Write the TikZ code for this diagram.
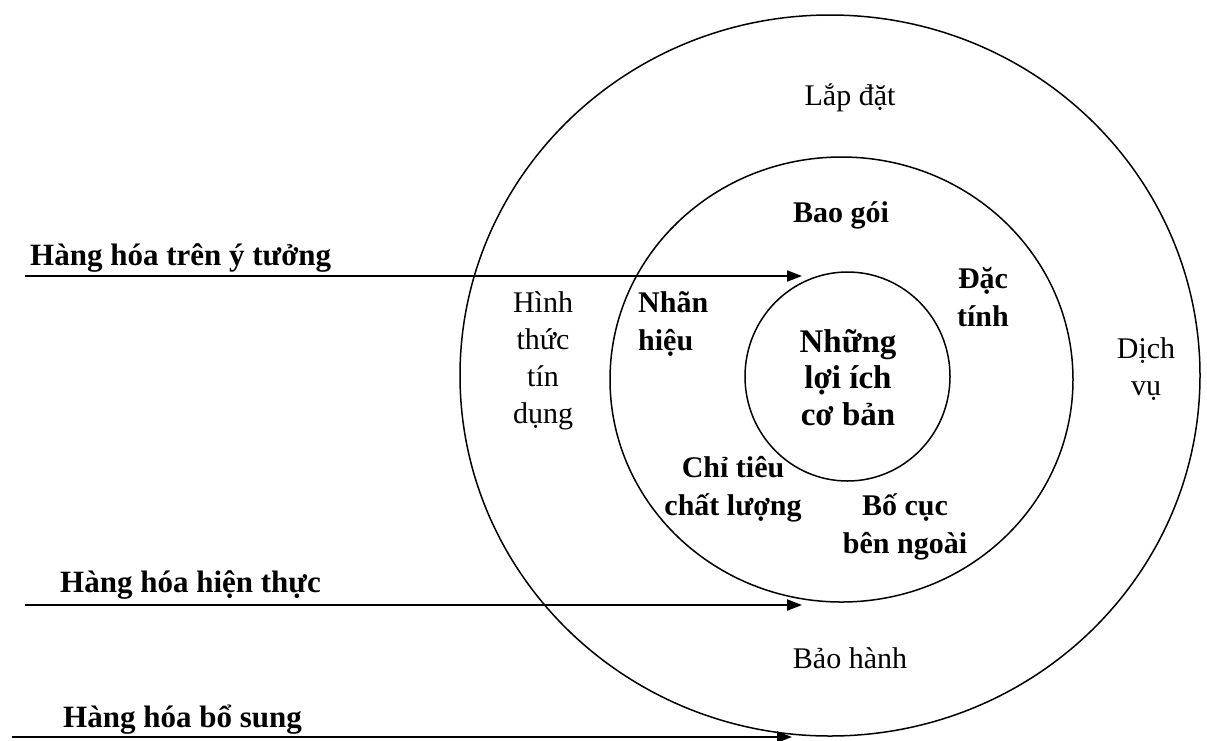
\documentclass[tikz,border=0pt]{standalone}
\usepackage{fontspec}
\setmainfont{Liberation Serif}
\usetikzlibrary{arrows.meta,shapes.geometric}
% multi-line label whose baseline is the first line
\newcommand{\txtlines}[2][c]{\begin{tabular}[t]{@{}#1@{}}#2\end{tabular}}

\begin{document}
\begin{tikzpicture}[x=1pt,y=-1pt,
  ring/.style={draw, ellipse, line width=1.5pt, inner sep=0pt, outer sep=0pt},
  lbl/.style={font=\fontsize{30}{37}\selectfont, inner sep=0pt, anchor=base},
  blbl/.style={font=\fontsize{30}{38}\selectfont\bfseries, inner sep=0pt, anchor=base},
  caption/.style={font=\fontsize{31}{38}\selectfont\bfseries, inner sep=0pt, anchor=base west},
  corelbl/.style={font=\fontsize{33}{36.5}\selectfont\bfseries, inner sep=0pt, anchor=base},
  levelarrow/.style={line width=2pt, -{Triangle[length=15pt,width=11pt]}}]

\useasboundingbox (0,0) rectangle (1207,740);
\fill[white] (0,0) rectangle (1207,740);

% the three product levels
\node[ring, minimum width=740pt, minimum height=721pt] (outer) at (830,375.5) {};
\node[ring, minimum width=463pt, minimum height=445pt] (middle) at (841.5,379.5) {};
\node[ring, minimum width=205pt, minimum height=209pt] (inner) at (847.5,376.5) {};

% core
\node[corelbl] (core) at (848,352) {\txtlines{Những\\lợi ích\\cơ bản}};

% actual product
\node[blbl] (baogoi) at (841,222) {Bao gói};
\node[blbl] (dactinh) at (983,288) {\txtlines{Đặc\\tính}};
\node[blbl, anchor=base west] (nhanhieu) at (638,312) {\txtlines[l]{Nhãn\\hiệu}};
\node[blbl] (chitieu) at (733,477) {\txtlines{Chỉ tiêu\\chất lượng}};
\node[blbl] (bocuc) at (905,515) {\txtlines{Bố cục\\bên ngoài}};

% augmented product
\node[lbl] (lapdat) at (850,105) {Lắp đặt};
\node[lbl] (hinhthuc) at (543,312) {\txtlines{Hình\\thức\\tín\\dụng}};
\node[lbl] (dichvu) at (1146,358) {\txtlines{Dịch\\vụ}};
\node[lbl] (baohanh) at (850,668) {Bảo hành};

% level captions and arrows
\node[caption] (ytuong) at (30,265) {Hàng hóa trên ý tưởng};
\node[caption] (hienthuc) at (60,592) {Hàng hóa hiện thực};
\node[caption] (bosung) at (63,727) {Hàng hóa bổ sung};

\coordinate (s1) at (25,276);
\coordinate (e1) at (802,276);
\coordinate (s2) at (25,605);
\coordinate (e2) at (802,605);
\coordinate (s3) at (12,737);
\coordinate (e3) at (792,737);

\draw[levelarrow] (s1) -- (e1);
\draw[levelarrow] (s2) -- (e2);
\draw[levelarrow] (s3) -- (e3);
\end{tikzpicture}
\end{document}
